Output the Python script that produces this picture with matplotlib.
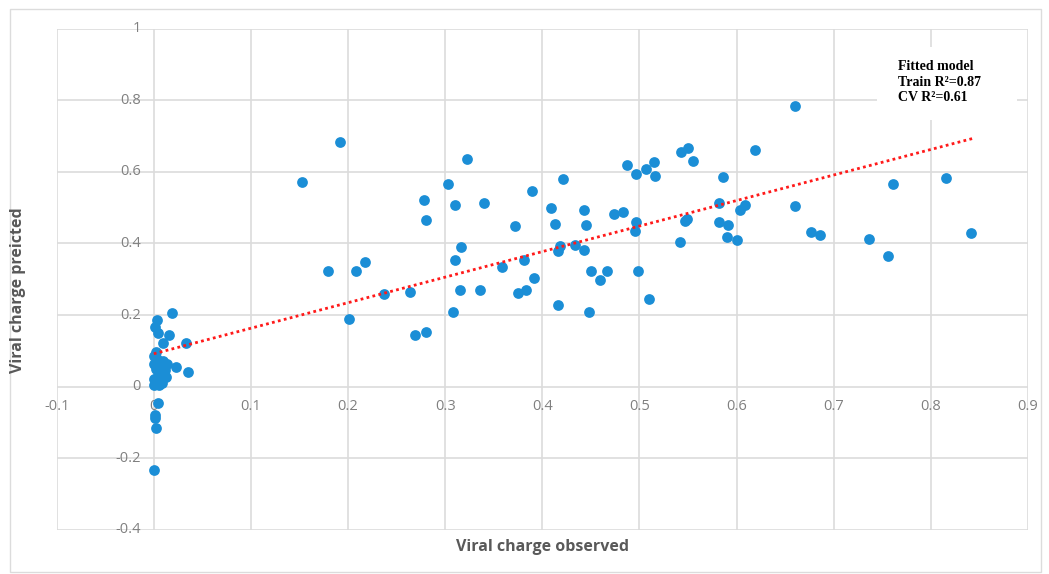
#!/usr/bin/env python3
"""
Viral charge: predicted vs observed scatter with linear trend line
(Excel-style chart recreated in matplotlib)
"""

import matplotlib
matplotlib.use('Agg')
import matplotlib.pyplot as plt
from matplotlib.patches import Rectangle

plt.rcParams['font.family'] = ['Open Sans', 'DejaVu Sans']

# colours
COLOR_POINTS = '#1b8ed6'
COLOR_TREND = '#ff1a1a'
COLOR_GRID = '#dcdcdc'
COLOR_TEXT = '#808080'
COLOR_TITLE = '#595959'

# data
observed = [
    0.000, 0.002, 0.001, 0.001, 0.004,
    0.003, 0.001, 0.004, 0.019, 0.016, 0.010, 0.033, 0.023, 0.035, 0.002,
    0.000, 0.003, 0.006, 0.000, 0.009, 0.002, 0.007, 0.011, 0.004, 0.000,
    0.013, 0.003, 0.008, 0.000, 0.014, 0.010, 0.012, 0.005,
    0.192, 0.153, 0.278, 0.280, 0.179, 0.208, 0.217, 0.237, 0.264, 0.201,
    0.269, 0.280,
    0.322, 0.303, 0.310, 0.340, 0.389, 0.372, 0.421, 0.409, 0.413, 0.443,
    0.445, 0.474, 0.483, 0.487, 0.496, 0.507, 0.515, 0.516, 0.496, 0.495,
    0.316, 0.310, 0.358, 0.381, 0.391, 0.315, 0.336, 0.375, 0.383, 0.418,
    0.416, 0.434, 0.443, 0.450, 0.459, 0.467, 0.498, 0.510, 0.416, 0.448,
    0.308,
    0.660, 0.619, 0.543, 0.550, 0.555, 0.586, 0.582, 0.604, 0.609, 0.547,
    0.549, 0.582, 0.591, 0.590, 0.600, 0.542, 0.660, 0.677, 0.686, 0.736,
    0.756, 0.761, 0.816, 0.841,
]
predicted = [
    -0.232, -0.115, -0.087, -0.080, -0.045,
    0.187, 0.168, 0.150, 0.206, 0.143, 0.122, 0.123, 0.054, 0.042, 0.098,
    0.085, 0.076, 0.068, 0.062, 0.058, 0.050, 0.042, 0.036, 0.030, 0.022,
    0.026, 0.015, 0.010, 0.004, 0.062, 0.072, 0.046, 0.005,
    0.683, 0.571, 0.522, 0.466, 0.322, 0.322, 0.348, 0.260, 0.265, 0.189,
    0.143, 0.152,
    0.636, 0.566, 0.508, 0.513, 0.545, 0.448, 0.580, 0.498, 0.455, 0.493,
    0.452, 0.482, 0.487, 0.620, 0.593, 0.608, 0.628, 0.589, 0.460, 0.436,
    0.389, 0.355, 0.334, 0.354, 0.304, 0.270, 0.270, 0.263, 0.271, 0.392,
    0.378, 0.396, 0.381, 0.322, 0.299, 0.322, 0.322, 0.246, 0.229, 0.209,
    0.209,
    0.785, 0.660, 0.654, 0.666, 0.631, 0.586, 0.513, 0.492, 0.506, 0.462,
    0.468, 0.459, 0.451, 0.417, 0.410, 0.404, 0.504, 0.431, 0.424, 0.413,
    0.366, 0.566, 0.583, 0.429,
]

# linear trend line endpoints
trend_x = [0.0, 0.843]
trend_y = [0.092, 0.693]

x_ticks = [-0.1, 0, 0.1, 0.2, 0.3, 0.4, 0.5, 0.6, 0.7, 0.8, 0.9]
y_ticks = [-0.4, -0.2, 0, 0.2, 0.4, 0.6, 0.8, 1]

note_lines = ['Fitted model', 'Train R\u00b2=0.87', 'CV R\u00b2=0.61']


def fmt(v):
    return f'{v:g}'


def plot_viral_charge():
    fig = plt.figure(figsize=(10.49, 5.74), dpi=100)
    ax = fig.add_axes([0.054, 0.0767, 0.926, 0.8736])

    # outer frame of the chart
    fig.patches.append(Rectangle((10 / 1049, 2 / 574), 1031 / 1049, 563 / 574,
                                 transform=fig.transFigure, fill=False,
                                 edgecolor=COLOR_GRID, linewidth=1.0))

    ax.set_xlim(x_ticks[0], x_ticks[-1])
    ax.set_ylim(y_ticks[0], y_ticks[-1])
    ax.set_xticks(x_ticks)
    ax.set_yticks(y_ticks)
    ax.grid(True, color=COLOR_GRID, linewidth=1.2)
    ax.set_axisbelow(True)
    ax.tick_params(length=0, labelbottom=False, labelleft=False)
    for sp in ax.spines.values():
        sp.set_visible(False)

    # tick labels sit on the zero lines (Excel axis crossing)
    for xv in x_ticks:
        ax.annotate(fmt(xv), (xv, 0), xytext=(0, -14.5), textcoords='offset points',
                    ha='center', va='center', fontsize=10.5, color=COLOR_TEXT,
                    annotation_clip=False)
    for yv in y_ticks:
        ax.annotate(fmt(yv), (0, yv), xytext=(-9.5, 0), textcoords='offset points',
                    ha='right', va='center', fontsize=10.5, color=COLOR_TEXT,
                    annotation_clip=False)

    ax.scatter(observed, predicted, s=60, color=COLOR_POINTS, zorder=3,
               linewidths=0)
    ax.plot(trend_x, trend_y, color=COLOR_TREND, linewidth=2.0,
            linestyle=(0, (1, 1.2)), zorder=4)

    # white box with model summary
    ax.add_patch(Rectangle((0.8445, 0.8175), 0.144, 0.146, transform=ax.transAxes,
                           facecolor='white', edgecolor='none', zorder=2))
    ax.text(0.866, 0.937, '\n'.join(note_lines), transform=ax.transAxes,
            ha='left', va='top', fontsize=10, fontweight='bold',
            family='Liberation Serif', linespacing=1.25, color='black', zorder=5)

    fig.text(543 / 1049, 1 - 547 / 574, 'Viral charge observed', ha='center',
             va='center', fontsize=11.5, fontweight='bold', color=COLOR_TITLE)
    fig.text(18 / 1049, 1 - 290 / 574, 'Viral charge preicted', ha='center',
             va='center', rotation=90, fontsize=11.5, fontweight='bold',
             color=COLOR_TITLE)

    fig.savefig('out.png', dpi=100, facecolor='white')
    return fig


if __name__ == '__main__':
    plot_viral_charge()
